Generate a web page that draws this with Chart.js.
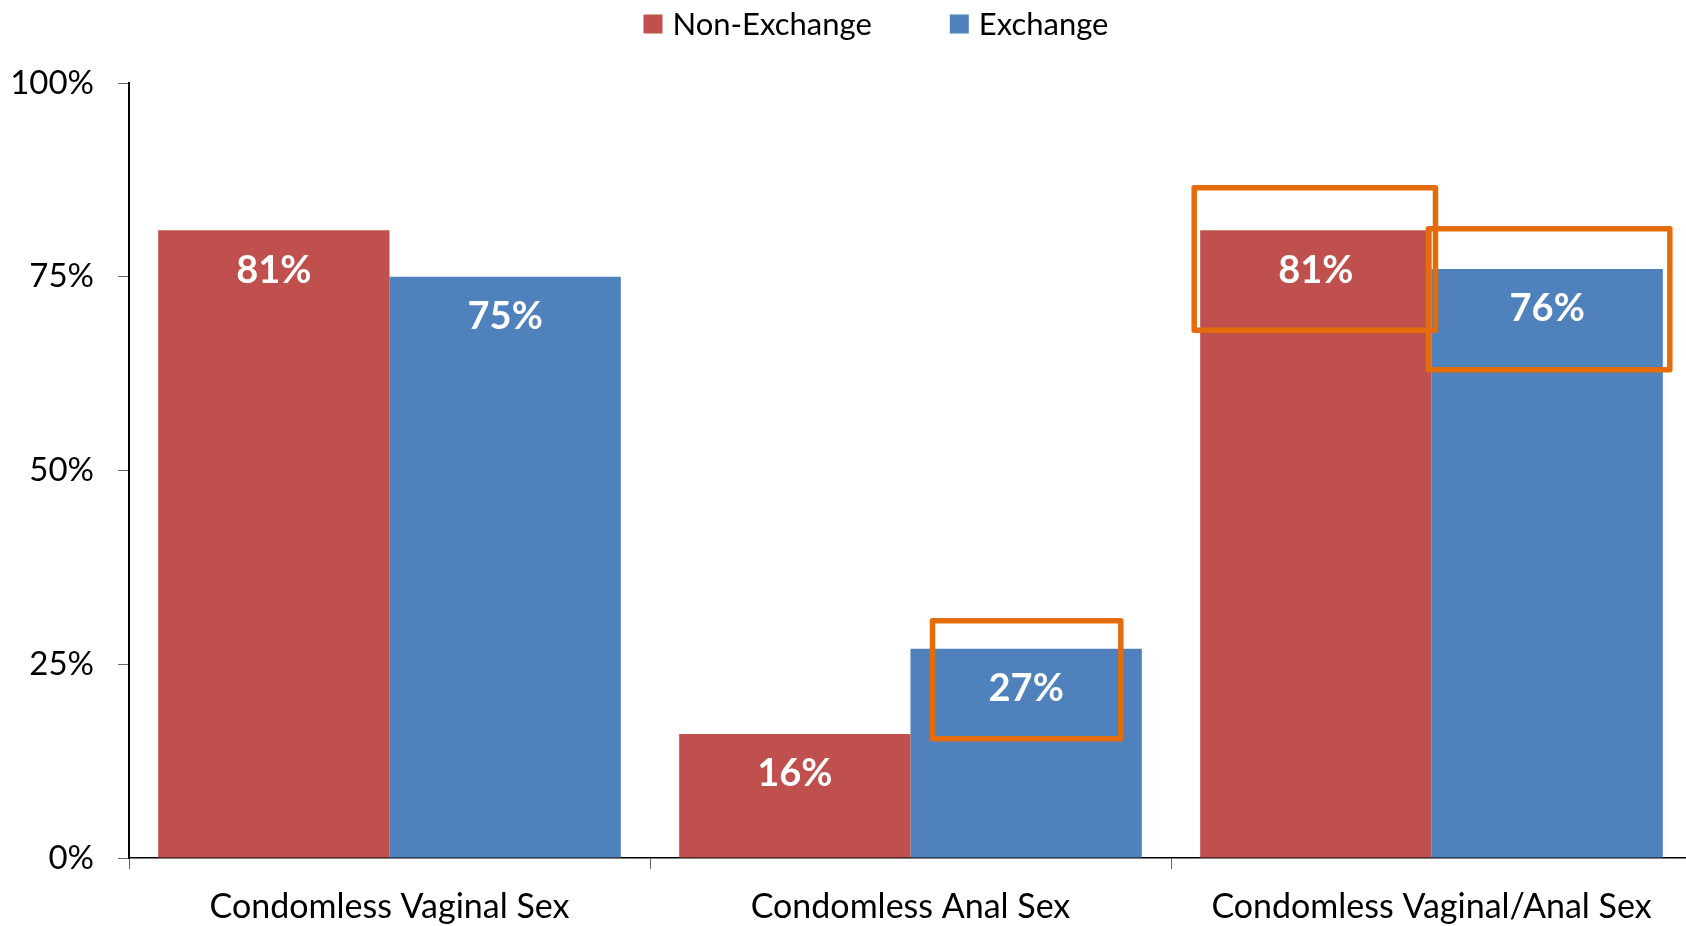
<!DOCTYPE html>
<html>
<head>
<meta charset="utf-8">
<script src="https://cdn.jsdelivr.net/npm/chart.js@4.4.1/dist/chart.umd.min.js"></script>
<style>
  html, body { margin: 0; padding: 0; background: #fff; overflow: hidden; }
  canvas { display: block; }
</style>
</head>
<body>
<canvas id="chart" width="1692" height="926"></canvas>
<script>
const categories = ["Condomless Vaginal Sex", "Condomless Anal Sex", "Condomless Vaginal/Anal Sex"];
const seriesNames = ["Non-Exchange", "Exchange"];
const nonExchange = [81, 16, 81];
const exchange = [75, 27, 76];
const yTicks = [0, 25, 50, 75, 100];

// orange boxes drawn round some of the bars (above/below in % points, side offsets in px)
const highlights = [
    { ds: 1, idx: 1, above: 3.6, below: 11.6, left: -22, right: -21 },
    { ds: 0, idx: 2, above: 5.5, below: 12.9, left: 6, right: 4 },
    { ds: 1, idx: 2, above: 5.2, below: 13.0, left: 3, right: 7 }
];

const FONT = "Lato, 'Open Sans', sans-serif";

// simple top legend, drawn by hand so it can sit close to the top edge
const topLegend = {
    id: 'topLegend',
    afterDraw(chart) {
        const ctx = chart.ctx;
        ctx.save();
        ctx.font = "31px " + FONT;
        ctx.textBaseline = "middle";
        const sets = chart.data.datasets;
        const widths = sets.map(d => ctx.measureText(d.label).width);
        const total = widths.reduce((a, b) => a + b, 0) + sets.length * 29 + (sets.length - 1) * 78;
        let x = 876 - total / 2;
        const cy = 24;
        sets.forEach((d, i) => {
            ctx.fillStyle = d.backgroundColor;
            ctx.fillRect(x, cy - 9.5, 19, 19);
            ctx.fillStyle = "#000";
            ctx.fillText(d.label, x + 29, cy + 1);
            x += 29 + widths[i] + 78;
        });
        ctx.restore();
    }
};

const barLabels = {
    id: 'barLabels',
    afterDatasetsDraw(chart) {
        const ctx = chart.ctx;
        ctx.save();
        ctx.fillStyle = "#fff";
        ctx.font = "bold 38px " + FONT;
        ctx.textAlign = "center"; ctx.textBaseline = "middle";
        chart.data.datasets.forEach((d, i) => {
            chart.getDatasetMeta(i).data.forEach((bar, j) => {
                ctx.fillText(d.data[j] + "%", bar.x, bar.y + 40);
            });
        });
        ctx.restore();
    }
};

const orangeBoxes = {
    id: 'orangeBoxes',
    afterDraw(chart) {
        const ctx = chart.ctx, y = chart.scales.y;
        ctx.save();
        ctx.strokeStyle = "#E46C0A"; ctx.lineWidth = 5.5; ctx.lineJoin = "round";
        highlights.forEach(h => {
            const bar = chart.getDatasetMeta(h.ds).data[h.idx];
            const v = chart.data.datasets[h.ds].data[h.idx];
            const x0 = bar.x - bar.width / 2 - h.left, x1 = bar.x + bar.width / 2 + h.right;
            const y0 = y.getPixelForValue(v + h.above), y1 = y.getPixelForValue(v - h.below);
            ctx.strokeRect(x0, y0, x1 - x0, y1 - y0);
        });
        ctx.restore();
    }
};

Chart.defaults.font.family = FONT;
Chart.defaults.color = "#000";

new Chart(document.getElementById("chart"), {
    type: 'bar',
    data: {
        labels: categories,
        datasets: [
            { label: seriesNames[0], data: nonExchange, backgroundColor: "#C0504D" },
            { label: seriesNames[1], data: exchange, backgroundColor: "#4F81BD" }
        ]
    },
    options: {
        responsive: false, animation: false, devicePixelRatio: 1,
        layout: { padding: { left: 0, right: 0, top: 83, bottom: 0 } },
        categoryPercentage: 0.888, barPercentage: 1.0,
        plugins: {
            legend: { display: false },
            tooltip: { enabled: false }
        },
        scales: {
            x: {
                grid: { drawOnChartArea: false, tickLength: 11, color: "#666", offset: true },
                border: { color: "#000", width: 1.5 },
                ticks: { font: { size: 34 }, padding: 18, color: "#000" },
                afterFit(s) { s.height = 68; }
            },
            y: {
                min: 0, max: 100,
                afterBuildTicks(s) { s.ticks = yTicks.map(v => ({ value: v })); },
                grid: { drawOnChartArea: false, tickLength: 11, color: "#666" },
                border: { color: "#000", width: 2 },
                ticks: { font: { size: 33 }, padding: 24, color: "#000", callback: v => v + "%" },
                afterFit(s) { s.width = 129; }
            }
        }
    },
    plugins: [topLegend, barLabels, orangeBoxes]
});
</script>
</body>
</html>
